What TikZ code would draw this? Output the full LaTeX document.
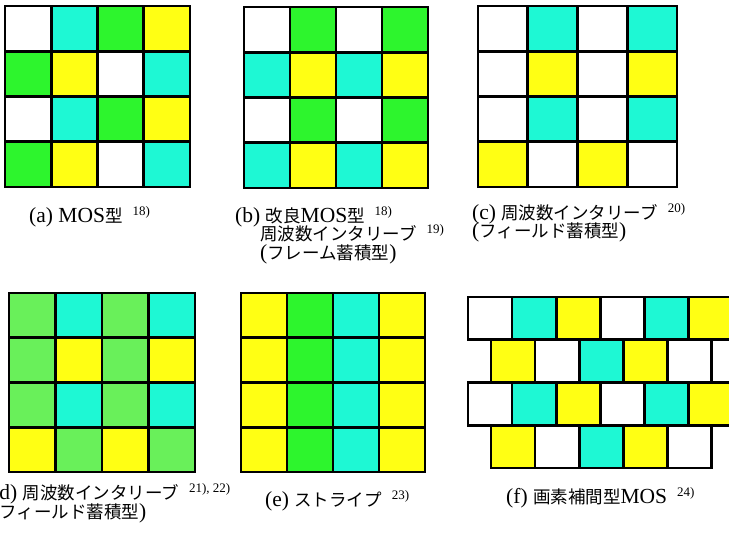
\documentclass[tikz,border=0pt]{standalone}
\usepackage{fontspec}
\setmainfont{Liberation Serif}
\newfontfamily\jpfont{Noto Sans CJK JP}
\newcommand\jp[1]{{\jpfont\fontsize{17.5}{18}\selectfont #1}}
\newcommand\refno[1]{\hspace{10pt}\raisebox{7pt}{\fontsize{13}{13}\selectfont #1}}
\definecolor{wh}{RGB}{255,255,255}
\definecolor{cy}{RGB}{30,248,212}
\definecolor{gr}{RGB}{45,245,45}
\definecolor{lg}{RGB}{105,240,90}
\definecolor{ye}{RGB}{255,255,20}

\begin{document}
\begin{tikzpicture}[x=1pt,y=-1pt,
  cell/.style={draw=black,line width=2.6pt},
  lab/.style={anchor=base west,inner sep=0pt,text height=13pt,text depth=4pt,
    font=\fontsize{21.5}{22}\selectfont}]
  \useasboundingbox (0,0) rectangle (729,533);
  \clip (0,0) rectangle (729,533);
  % square patterns (a)-(e)
  \foreach \px/\py/\w/\h/\rows in {
    5/6/46.25/45.25/{{wh,cy,gr,ye},{gr,ye,wh,cy},{wh,cy,gr,ye},{gr,ye,wh,cy}},
    244/7/46/45.25/{{wh,gr,wh,gr},{cy,ye,cy,ye},{wh,gr,wh,gr},{cy,ye,cy,ye}},
    478/6/49.75/45.25/{{wh,cy,wh,cy},{wh,ye,wh,ye},{wh,cy,wh,cy},{ye,wh,ye,wh}},
    9/293/46.5/44.75/{{lg,cy,lg,cy},{lg,ye,lg,ye},{lg,cy,lg,cy},{ye,lg,ye,lg}},
    241/293/46/44.75/{{ye,gr,cy,ye},{ye,gr,cy,ye},{ye,gr,cy,ye},{ye,gr,cy,ye}}}{
    \foreach [count=\i from 0] \row in \rows {
      \foreach [count=\j from 0] \c in \row {
        \filldraw[cell,fill=\c] (\px+\j*\w,\py+\i*\h) rectangle ++(\w,\h);
      }
    }
  }
  % (f) offset rows
  \foreach \i/\x/\row in {0/468/{wh,cy,ye,wh,cy,ye},1/491/{ye,wh,cy,ye,wh},
                          2/468/{wh,cy,ye,wh,cy,ye},3/491/{ye,wh,cy,ye,wh}}{
    \foreach [count=\j from 0] \c in \row {
      \filldraw[cell,fill=\c] (\x+\j*44.1,297+\i*42.75) rectangle ++(44.1,42.75);
    }
  }
  % captions
  \node[lab] (capa) at (29,222) {(a) MOS\jp{型}\refno{18)}};
  \node[lab] (capb1) at (235,222) {(b) \jp{改良}MOS\jp{型}\refno{18)}};
  \node[lab] (capb2) at (260,240) {\jp{周波数インタリーブ}\refno{19)}};
  \node[lab] (capb3) at (260,259) {(\jp{フレーム蓄積型})};
  \node[lab] (capc1) at (472,219) {(c) \jp{周波数インタリーブ}\refno{20)}};
  \node[lab] (capc2) at (472,237) {(\jp{フィールド蓄積型})};
  \node[lab] (capd1) at (-8,499) {(d) \jp{周波数インタリーブ}\refno{21), 22)}};
  \node[lab] (capd2) at (-8,518) {(\jp{フィールド蓄積型})};
  \node[lab] (cape) at (265,506) {(e) \jp{ストライプ}\refno{23)}};
  \node[lab] (capf) at (506,503) {(f) \jp{画素補間型}MOS\refno{24)}};
\end{tikzpicture}
\end{document}
